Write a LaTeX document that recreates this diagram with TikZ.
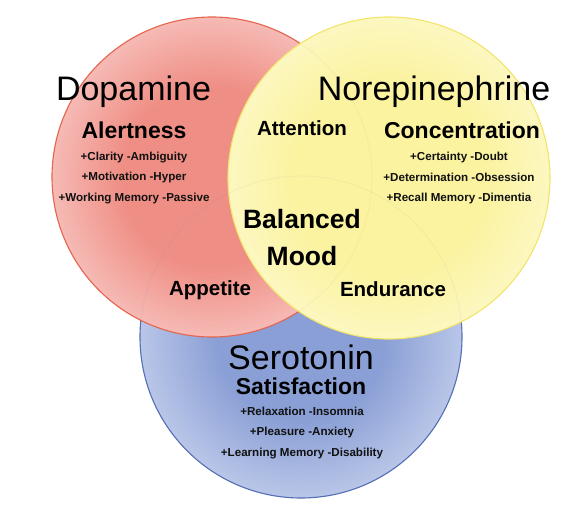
\documentclass[tikz,border=0pt]{standalone}
\usepackage{fontspec}
\setmainfont{Liberation Sans}
\definecolor{redin}{HTML}{EF8E84}
\definecolor{redout}{HTML}{F6BAB5}
\definecolor{redline}{HTML}{E4664F}
\definecolor{yelin}{HTML}{FBF3A0}
\definecolor{yelout}{HTML}{FCF7C0}
\definecolor{yelline}{HTML}{F3E46A}
\definecolor{bluin}{HTML}{8A9FD5}
\definecolor{bluout}{HTML}{B9C6E8}
\definecolor{bluline}{HTML}{5470B6}
\definecolor{txt}{HTML}{111111}
\pgfdeclareradialshading{redshade}{\pgfpoint{0bp}{0bp}}{color(0bp)=(redin); color(14bp)=(redin); color(25bp)=(redout); color(50bp)=(redout)}
\pgfdeclareradialshading{yelshade}{\pgfpoint{0bp}{0bp}}{color(0bp)=(yelin); color(15bp)=(yelin); color(25bp)=(yelout); color(50bp)=(yelout)}
\pgfdeclareradialshading{blushade}{\pgfpoint{0bp}{0bp}}{color(0bp)=(bluin); color(13bp)=(bluin); color(25bp)=(bluout); color(50bp)=(bluout)}
\tikzset{
  ring/.style={circle, inner sep=0pt, line width=1.1pt},
  bigname/.style={font=\fontsize{34}{40}\selectfont, text=black},
  quality/.style={font=\bfseries\fontsize{23}{27}\selectfont, text=black},
  overlap/.style={font=\bfseries\fontsize{20.5}{24}\selectfont, text=black},
  detail/.style={font=\bfseries\fontsize{11.6}{20.5}\selectfont, text=txt, align=center},
  ghost/.style={circle, inner sep=0pt, draw opacity=0.07, line width=0.8pt}
}
\begin{document}
\begin{tikzpicture}[x=1pt,y=-1pt]
\useasboundingbox (0,0) rectangle (571,519);
\node[ring, minimum size=322pt, draw=bluline, shading=blushade] (ser) at (301,337) {};
\node[ring, minimum size=320pt, draw=redline, shading=redshade] (dop) at (212,177) {};
\node[ring, minimum size=322pt, draw=yelline, shading=yelshade] (nor) at (389,178) {};
\node[ghost, minimum size=322pt, draw=bluline] (serg) at (301,337) {};
\node[ghost, minimum size=320pt, draw=redline] (dopg) at (212,177) {};

\node[bigname] (dname) at (133.5,92) {Dopamine};
\node[bigname] (nname) at (434,92) {Norepinephrine};
\node[bigname] (sname) at (301,357) {Serotonin};

\node[quality] (alert) at (134,130) {Alertness};
\node[quality] (conc) at (462,130) {Concentration};
\node[quality] (sat) at (301,386) {Satisfaction};

\node[overlap] (att) at (302,128) {Attention};
\node[overlap] (app) at (210,290) {Appetite};
\node[overlap] (endu) at (393,289) {Endurance};
\node[font=\bfseries\fontsize{26.5}{37}\selectfont, align=center] (bal) at (302,238) {Balanced\\Mood};

\node[detail] (dlist) at (134,178) {+Clarity -Ambiguity\\+Motivation -Hyper\\+Working Memory -Passive};
\node[detail] (nlist) at (459,178) {+Certainty -Doubt\\+Determination -Obsession\\+Recall Memory -Dimentia};
\node[detail] (slist) at (302,433) {+Relaxation -Insomnia\\+Pleasure -Anxiety\\+Learning Memory -Disability};
\end{tikzpicture}
\end{document}
